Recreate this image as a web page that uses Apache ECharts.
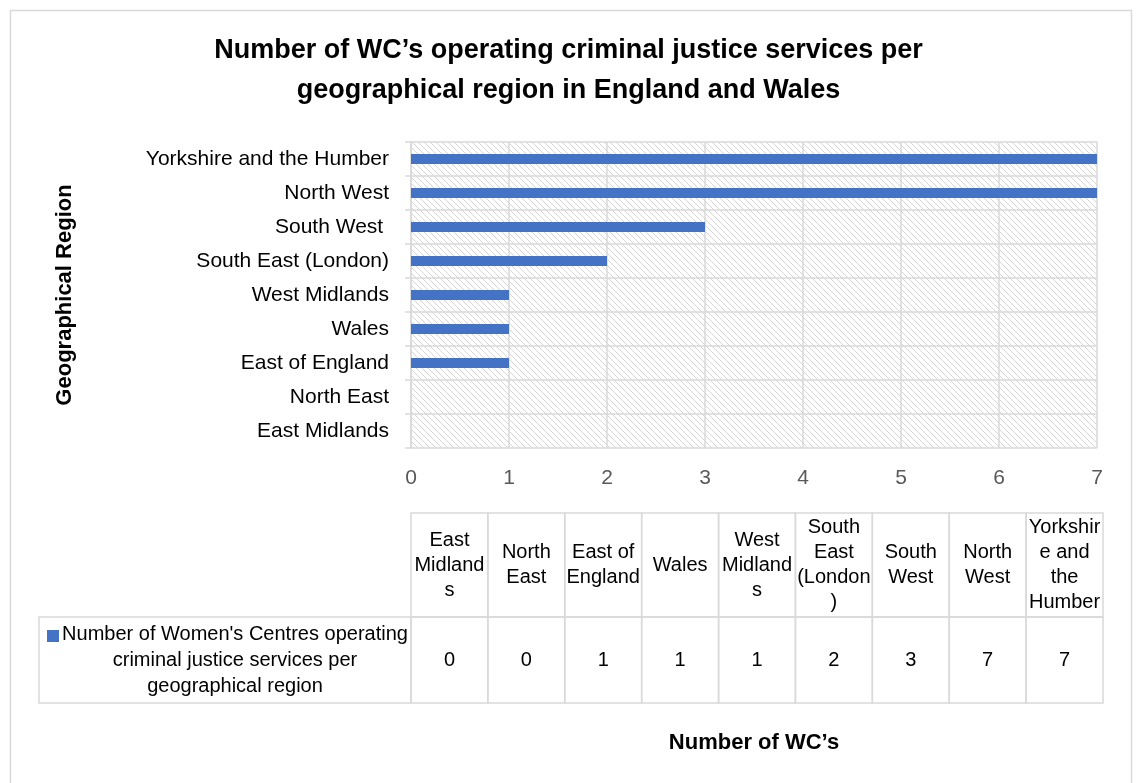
<!DOCTYPE html>
<html>
<head>
<meta charset="utf-8">
<style>
  html, body { margin: 0; padding: 0; background: #fff; }
  #main { width: 1137px; height: 783px; }
</style>
<script src="https://cdn.jsdelivr.net/npm/echarts@6/dist/echarts.min.js"></script>
</head>
<body>
<div id="main"></div>
<script>
const regions = ['East Midlands', 'North East', 'East of England', 'Wales', 'West Midlands',
    'South East (London)', 'South West ', 'North West', 'Yorkshire and the Humber'];
const centreCounts = [0, 0, 1, 1, 1, 2, 3, 7, 7];
// table header labels, wrapped the way the table cell wraps them
const tableHeaders = ['East\nMidland\ns', 'North\nEast', 'East of\nEngland', 'Wales', 'West\nMidland\ns',
    'South\nEast\n(London\n)', 'South\nWest', 'North\nWest', 'Yorkshir\ne and\nthe\nHumber'];
const xTicks = [0, 1, 2, 3, 4, 5, 6, 7];
const seriesName = "Number of Women's Centres operating\ncriminal justice services per\ngeographical region";

const FONT = '"Liberation Sans", Arial, sans-serif';
const BLUE = '#4472c4';
const GRID = '#d9d9d9';

const chart = echarts.init(document.querySelector('#main'));

// hatched fill for the plot area
function hatch() {
    const c = document.createElement('canvas');
    c.width = 6;
    c.height = 6;
    const ctx = c.getContext('2d');
    ctx.fillStyle = '#fff';
    ctx.fillRect(0, 0, 6, 6);
    ctx.strokeStyle = '#d6d6d6';
    ctx.lineWidth = 1;
    ctx.beginPath();
    ctx.moveTo(-1, -1); ctx.lineTo(7, 7);
    ctx.moveTo(-1, 5); ctx.lineTo(1, 7);
    ctx.moveTo(5, -1); ctx.lineTo(7, 1);
    ctx.stroke();
    return c;
}

// data table under the chart
const tLeft = 411, tRight = 1103, tTop = 513, tMid = 617, tBottom = 703;
const colW = (tRight - tLeft) / regions.length;
const table = [];
tableHeaders.forEach((h, i) => {
    const x = tLeft + i * colW;
    table.push({
        type: 'rect', shape: { x: x, y: tTop, width: colW, height: tMid - tTop },
        style: { fill: 'none', stroke: GRID, lineWidth: 1.5 }
    });
    table.push({
        type: 'rect', shape: { x: x, y: tMid, width: colW, height: tBottom - tMid },
        style: { fill: 'none', stroke: GRID, lineWidth: 1.5 }
    });
    table.push({
        type: 'text', x: x + colW / 2, y: (tTop + tMid) / 2,
        style: { text: h, font: '20px ' + FONT, fill: '#000', align: 'center', verticalAlign: 'middle', lineHeight: 25 }
    });
    table.push({
        type: 'text', x: x + colW / 2, y: (tMid + tBottom) / 2,
        style: { text: String(centreCounts[i]), font: '20px ' + FONT, fill: '#000', align: 'center', verticalAlign: 'middle' }
    });
});
table.push({
    type: 'rect', shape: { x: 39, y: tMid, width: tLeft - 39, height: tBottom - tMid },
    style: { fill: 'none', stroke: GRID, lineWidth: 1.5 }
});
table.push({
    type: 'rect', shape: { x: 47, y: 630, width: 12, height: 12 },
    style: { fill: BLUE }
});
table.push({
    type: 'text', x: 235, y: (tMid + tBottom) / 2,
    style: { text: seriesName, font: '20px ' + FONT, fill: '#000', align: 'center', verticalAlign: 'middle', lineHeight: 26 }
});

let option = {
    animation: false,
    backgroundColor: '#fff',
    title: {
        text: 'Number of WC’s operating criminal justice services per\ngeographical region in England and Wales',
        left: 'center',
        top: 31,
        padding: 0,
        textStyle: { fontFamily: FONT, fontSize: 27, fontWeight: 'bold', color: '#000', lineHeight: 40 }
    },
    grid: {
        left: 411, right: 40, top: 142, bottom: 335,
        show: true,
        borderWidth: 0,
        backgroundColor: { image: hatch(), repeat: 'repeat' }
    },
    xAxis: {
        type: 'value',
        min: xTicks[0],
        max: xTicks[xTicks.length - 1],
        interval: 1,
        name: 'Number of WC’s',
        nameLocation: 'middle',
        nameGap: 284,
        nameTextStyle: { fontFamily: FONT, fontSize: 22, fontWeight: 'bold', color: '#000' },
        axisLine: { show: false },
        axisTick: { show: false },
        axisLabel: { fontFamily: FONT, fontSize: 21, color: '#595959', margin: 20 },
        splitLine: { lineStyle: { color: GRID, width: 1.5 } }
    },
    yAxis: {
        type: 'category',
        data: regions,
        name: 'Geographical Region',
        nameLocation: 'middle',
        nameGap: 335,
        nameTextStyle: { fontFamily: FONT, fontSize: 22, fontWeight: 'bold', color: '#000' },
        axisLine: { show: true, lineStyle: { color: GRID, width: 1.5 } },
        axisTick: { show: true, length: 6, lineStyle: { color: GRID, width: 1.5 } },
        axisLabel: { fontFamily: FONT, fontSize: 21, color: '#000', margin: 22 },
        splitLine: { show: true, lineStyle: { color: GRID, width: 1.5 } }
    },
    series: [
        {
            name: seriesName,
            type: 'bar',
            data: centreCounts,
            barWidth: 10,
            itemStyle: { color: BLUE }
        }
    ],
    graphic: [
        {
            type: 'rect', shape: { x: 10.5, y: 10.5, width: 1121, height: 800 },
            style: { fill: 'none', stroke: GRID, lineWidth: 1.5 }, silent: true
        }
    ].concat(table)
};

chart.setOption(option);
</script>
</body>
</html>
